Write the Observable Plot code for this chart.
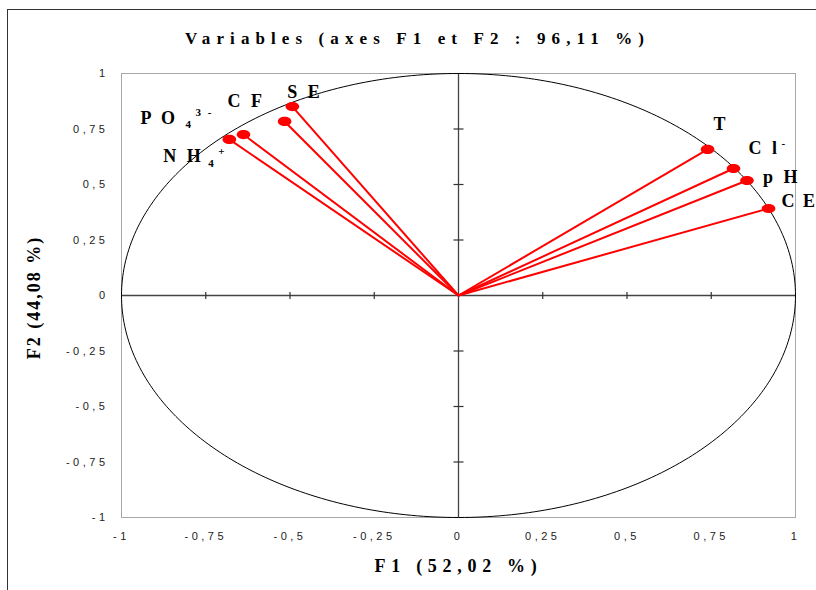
<!DOCTYPE html>
<html>
<head>
<meta charset="utf-8">
<script src="https://cdn.jsdelivr.net/npm/d3@7"></script>
<script src="https://cdn.jsdelivr.net/npm/@observablehq/plot@0.6"></script>
<style>
  html, body { margin: 0; padding: 0; background: #fff; }
  #wrap { position: relative; width: 816px; height: 590px; overflow: hidden; background: #fff; }
  #border { position: absolute; left: 7px; top: 9px; width: 900px; height: 700px;
            border-left: 1.5px solid #333; border-top: 1.5px solid #333; pointer-events: none; }
  #chart { position: absolute; left: 0; top: 0; }
  g[aria-label="x-axis tick label"] text, g[aria-label="y-axis tick label"] text { letter-spacing: 3.5px; }
</style>
</head>
<body>
<div id="wrap"><div id="chart"></div><div id="border"></div></div>
<script>
// ---- data ----
const varNames = ["T", "C l", "p H", "C E", "S E", "C F", "P O", "N H"];
const varSubs  = ["", "", "", "", "", "", "4", "4"];
const varSups  = ["", "-", "", "", "", "", "3 -", "+"];
const f1Values = [0.739, 0.816, 0.856, 0.920, -0.493, -0.516, -0.638, -0.680];
const f2Values = [0.658, 0.572, 0.518, 0.392, 0.851, 0.784, 0.725, 0.703];
const tickValues = [-1, -0.75, -0.5, -0.25, 0, 0.25, 0.5, 0.75, 1];
const tickLabels = ["-1", "-0,75", "-0,5", "-0,25", "0", "0,25", "0,5", "0,75", "1"];
const innerTicks = [-0.75, -0.5, -0.25, 0.25, 0.5, 0.75];
const titleText = "Variables (axes F1 et F2 : 96,11 %)";
const xTitle = "F1 (52,02 %)";
const yTitle = "F2 (44,08 %)";

// ---- layout (pixel offsets of labels from their points) ----
const labelLayout = {
  "T":   {dx: 6,    dy: -19, ls: 3},
  "C l": {dx: 15,   dy: -15, ls: 3, supDx: 48, supDy: -22},
  "p H": {dx: 16,   dy: 2,   ls: 3},
  "C E": {dx: 13,   dy: -1,  ls: 2},
  "S E": {dx: -5,   dy: -9,  ls: 3},
  "C F": {dx: -57,  dy: -14, ls: 3},
  "P O": {dx: -103, dy: -11, ls: 3, subDx: -58, subDy: -7, supDx: -48, supDy: -19},
  "N H": {dx: -66,  dy: 23,  ls: 3, subDx: -21, subDy: 28, supDx: -11, supDy: 16}
};

const vars = varNames.map((name, i) => ({name, sub: varSubs[i], sup: varSups[i], f1: f1Values[i], f2: f2Values[i]}));

// unit correlation circle (reference geometry)
const circle = d3.range(0, 361, 1).map(a => ({x: Math.cos(a * Math.PI / 180), y: Math.sin(a * Math.PI / 180)}));

const ellipseSymbol = {
  draw(ctx) {
    const rx = 6.8, ry = 4.6, k = 0.5523;
    ctx.moveTo(rx, 0);
    ctx.bezierCurveTo(rx, ry * k, rx * k, ry, 0, ry);
    ctx.bezierCurveTo(-rx * k, ry, -rx, ry * k, -rx, 0);
    ctx.bezierCurveTo(-rx, -ry * k, -rx * k, -ry, 0, -ry);
    ctx.bezierCurveTo(rx * k, -ry, rx, -ry * k, rx, 0);
    ctx.closePath();
  }
};
const vTick = { draw(ctx) { ctx.moveTo(0, -3.5); ctx.lineTo(0, 3.5); } };
const hTick = { draw(ctx) { ctx.moveTo(-5, 0); ctx.lineTo(5, 0); } };

const serif = "Liberation Serif, Times New Roman, serif";
const sans = "Liberation Sans, Arial, sans-serif";

const labelMarks = [];
for (const v of vars) {
  const L = labelLayout[v.name];
  labelMarks.push(Plot.text([v], {x: "f1", y: "f2", text: "name", dx: L.dx, dy: L.dy,
    textAnchor: "start", lineAnchor: "bottom", fontFamily: serif, fontWeight: "bold", fontSize: 18,
    fill: "#000"}));
  if (v.sub) labelMarks.push(Plot.text([v], {x: "f1", y: "f2", text: "sub", dx: L.subDx, dy: L.subDy,
    textAnchor: "start", lineAnchor: "bottom", fontFamily: serif, fontWeight: "bold", fontSize: 11,
    fill: "#000"}));
  if (v.sup) labelMarks.push(Plot.text([v], {x: "f1", y: "f2", text: "sup", dx: L.supDx, dy: L.supDy,
    textAnchor: "start", lineAnchor: "bottom", fontFamily: serif, fontWeight: "bold", fontSize: 11,
    fill: "#000"}));
}

const chart = Plot.plot({
  width: 816,
  height: 590,
  marginLeft: 121,
  marginRight: 21,
  marginTop: 73,
  marginBottom: 73,
  style: {background: "transparent", fontFamily: sans, color: "#000", overflow: "visible"},
  x: {domain: [-1, 1], axis: null},
  y: {domain: [-1, 1], axis: null},
  marks: [
    Plot.frame({stroke: "#a8a8a8", strokeWidth: 1}),
    Plot.ruleY([0], {stroke: "#444", strokeWidth: 1.3}),
    Plot.ruleX([0], {stroke: "#444", strokeWidth: 1.3}),
    Plot.dot(innerTicks, {x: d => d, y: 0, symbol: vTick, stroke: "#333", fill: "none", strokeWidth: 1.2}),
    Plot.dot(innerTicks, {x: 0, y: d => d, symbol: hTick, stroke: "#333", fill: "none", strokeWidth: 1.2}),
    Plot.line(circle, {x: "x", y: "y", stroke: "#000", strokeWidth: 1}),
    Plot.link(vars, {x1: 0, y1: 0, x2: "f1", y2: "f2", stroke: "#ff0000", strokeWidth: 2}),
    Plot.dot(vars, {x: "f1", y: "f2", symbol: ellipseSymbol, fill: "#ff0000", stroke: "none"}),
    ...labelMarks,
    Plot.axisX(tickValues, {tickSize: 0, tickPadding: 15, fontSize: 11, fontFamily: sans, fill: "#222",
      tickFormat: d => tickLabels[tickValues.indexOf(d)]}),
    Plot.axisY(tickValues, {tickSize: 0, tickPadding: 13, fontSize: 11, fontFamily: sans, fill: "#222",
      tickFormat: d => tickLabels[tickValues.indexOf(d)]}),
    Plot.text([titleText], {text: d => d, frameAnchor: "top", textAnchor: "middle", dx: -41, dy: -35, lineAnchor: "middle",
      fontFamily: serif, fontWeight: "bold", fontSize: 17, fill: "#000"}),
    Plot.text([xTitle], {text: d => d, frameAnchor: "bottom", textAnchor: "middle", dx: 0, dy: 49, lineAnchor: "middle",
      fontFamily: serif, fontWeight: "bold", fontSize: 18, fill: "#000"}),
    Plot.text([yTitle], {text: d => d, frameAnchor: "left", textAnchor: "middle", dx: -87, dy: 2, rotate: -90, lineAnchor: "middle",
      fontFamily: serif, fontWeight: "bold", fontSize: 18, fill: "#000"})
  ]
});
document.getElementById("chart").appendChild(chart);

// letter spacing of the spaced-out texts
const spacing = new Map([[titleText, "6.1px"], [xTitle, "5.7px"], [yTitle, "2px"]]);
for (const n of varNames) spacing.set(n, labelLayout[n].ls + "px");
for (const s of [...varSubs, ...varSups]) if (s) spacing.set(s, "2px");
d3.select(chart).selectAll("text").each(function () {
  const sp = spacing.get(this.textContent);
  if (sp && !this.closest('g[aria-label$="tick label"]')) this.style.letterSpacing = sp;
});
</script>
</body>
</html>
